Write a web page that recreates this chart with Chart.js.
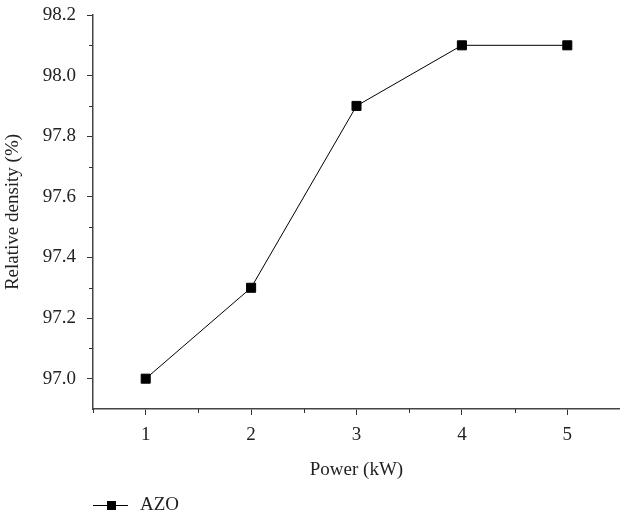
<!DOCTYPE html>
<html lang="en">
<head>
<meta charset="UTF-8">
<title>Relative density vs power</title>
<script src="https://cdn.jsdelivr.net/npm/chart.js"></script>
<style>
  html, body { margin: 0; padding: 0; background: #fff; }
  canvas { display: block; }
</style>
</head>
<body>
<canvas id="myChart" width="620" height="517"></canvas>
<script>
// data
const power = [1, 2, 3, 4, 5];
const azo = [97.0, 97.3, 97.9, 98.1, 98.1];
const xTicks = [1, 2, 3, 4, 5];
const yTicks = [97.0, 97.2, 97.4, 97.6, 97.8, 98.0, 98.2];
const xMinor = [0.5, 1.5, 2.5, 3.5, 4.5];
const yMinor = [97.1, 97.3, 97.5, 97.7, 97.9, 98.1];

const FONT = "'Liberation Serif', 'Times New Roman', serif";
const FS = 19;

// minor tick marks + the legend at the bottom left
const extras = {
    id: 'extras',
    afterDraw(chart) {
        const {ctx, scales: {x, y}} = chart;
        ctx.save();
        ctx.strokeStyle = '#333';
        ctx.lineWidth = 1;
        ctx.beginPath();
        xMinor.forEach(v => {
            const px = Math.round(x.getPixelForValue(v)) + 0.5;
            ctx.moveTo(px, y.bottom);
            ctx.lineTo(px, y.bottom + 4);
        });
        yMinor.forEach(v => {
            const py = Math.round(y.getPixelForValue(v)) + 0.5;
            ctx.moveTo(x.left, py);
            ctx.lineTo(x.left - 4, py);
        });
        ctx.stroke();

        // legend
        const ly = 505.5;
        ctx.strokeStyle = '#000';
        ctx.beginPath();
        ctx.moveTo(93, ly);
        ctx.lineTo(128, ly);
        ctx.stroke();
        ctx.fillStyle = '#000';
        ctx.fillRect(107, ly - 4.5, 9, 9);
        ctx.fillStyle = '#222';
        ctx.font = FS + 'px ' + FONT;
        ctx.textBaseline = 'middle';
        ctx.fillText(chart.data.datasets[0].label, 140, ly);
        ctx.restore();
    }
};

const ctx = document.getElementById('myChart').getContext('2d');
new Chart(ctx, {
    type: 'line',
    data: {
        datasets: [{
            label: 'AZO',
            data: power.map((p, i) => ({x: p, y: azo[i]})),
            borderColor: '#000',
            backgroundColor: '#000',
            borderWidth: 1,
            pointStyle: 'rect',
            pointRadius: 6.4,
            pointHoverRadius: 6.4,
            tension: 0
        }]
    },
    options: {
        responsive: false,
        animation: false,
        layout: { autoPadding: false, padding: { top: 15, right: 0, left: 0, bottom: 0 } },
        scales: {
            x: {
                type: 'linear',
                min: 0.5,
                max: 5.5,
                afterBuildTicks: s => { s.ticks = xTicks.map(v => ({value: v})); },
                afterFit: s => { s.height = 108; s.paddingLeft = 0; s.paddingRight = 0; },
                ticks: { color: '#222', font: { family: FONT, size: FS }, padding: 9, maxRotation: 0 },
                grid: { drawOnChartArea: false, drawTicks: true, tickLength: 6, color: '#333' },
                border: { display: true, color: '#444', width: 1.5 },
                title: { display: true, text: 'Power (kW)', color: '#222', font: { family: FONT, size: FS }, padding: { top: 6, bottom: 36 } }
            },
            y: {
                min: 96.9,
                max: 98.2,
                afterBuildTicks: s => { s.ticks = yTicks.map(v => ({value: v})); },
                afterFit: s => { s.width = 93; s.paddingTop = 0; s.paddingBottom = 0; },
                ticks: { color: '#222', font: { family: FONT, size: FS }, padding: 11, callback: v => v.toFixed(1) },
                grid: { drawOnChartArea: false, drawTicks: true, tickLength: 6, color: '#333' },
                border: { display: true, color: '#444', width: 1.5 },
                title: { display: true, text: 'Relative density (%)', color: '#222', font: { family: FONT, size: FS }, padding: { top: 2, bottom: 0 } }
            }
        },
        plugins: {
            legend: { display: false },
            tooltip: { enabled: false }
        }
    },
    plugins: [extras]
});
</script>
</body>
</html>
